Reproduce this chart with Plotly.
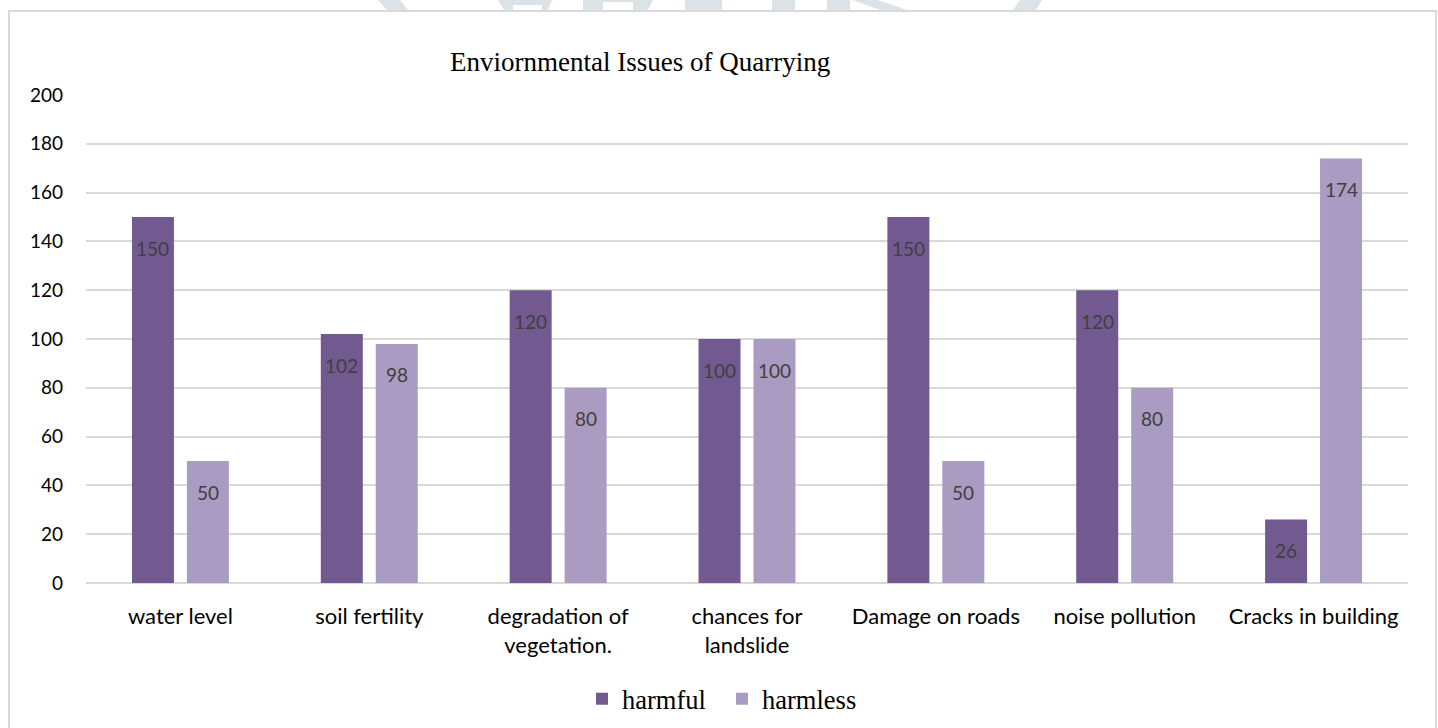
import plotly.graph_objects as go

categories = ["water level", "soil fertility", "degradation of<br>vegetation.", "chances for<br>landslide",
              "Damage on roads", "noise pollution", "Cracks in building"]
harmful = [150, 102, 120, 100, 150, 120, 26]
harmless = [50, 98, 80, 100, 50, 80, 174]
series_names = ["harmful", "harmless"]
y_ticks = [0, 20, 40, 60, 80, 100, 120, 140, 160, 180, 200]

C_HARMFUL = "#725990"
C_HARMLESS = "#a99bc1"

W, H = 1438, 728
ML, MR, MT = 86, 30, 95
MB = H - 583
PW, PH = W - ML - MR, H - MT - MB

def px(sx, sy):
    return (sx - ML) / PW, (H - MB - sy) / PH

fig = go.Figure()
fig.add_trace(go.Bar(x=categories, y=harmful, name=series_names[0], marker=dict(color=C_HARMFUL, line=dict(width=0))))
fig.add_trace(go.Bar(x=categories, y=harmless, name=series_names[1], marker=dict(color=C_HARMLESS, line=dict(width=0))))

annotations = []
for vals, shift in ((harmful, -27.5), (harmless, 27.5)):
    for c, v in zip(categories, vals):
        annotations.append(dict(x=c, y=v, xref="x", yref="y", text=str(v), showarrow=False,
                                xshift=shift, yshift=-31, yanchor="middle",
                                font=dict(family="Lato", size=19, color="#404040")))

tx, ty = px(640, 62)
annotations.append(dict(x=tx, y=ty, xref="paper", yref="paper", text="Enviornmental Issues of Quarrying",
                        showarrow=False, xanchor="center", yanchor="middle",
                        font=dict(family="Liberation Serif", size=27, color="#000000")))

shapes = []
# chart border
x0, y0 = px(9, 11)
x1, y1 = px(1436, 740)
shapes.append(dict(type="rect", xref="paper", yref="paper", x0=x0, y0=y1, x1=x1, y1=y0,
                   line=dict(color="#d9d9d9", width=2), fillcolor="rgba(0,0,0,0)", layer="below"))

# faint watermark fragments along the top edge
wm = [
    [(378, 0), (400, 0), (408, 10), (387, 10)],
    [(498, 0), (552, 0), (548, 10), (542, 10), (542, 5), (513, 5), (513, 10), (504, 10)],
    [(583, 0), (653, 0), (648, 10), (633, 10), (633, 2), (603, 2), (603, 10), (583, 10)],
    [(685, 0), (700, 0), (700, 10), (685, 10)],
    [(697, 0), (722, 0), (722, 10), (697, 10)],
    [(772, 0), (795, 0), (795, 10), (772, 10)],
    [(827, 0), (850, 0), (850, 10), (827, 10)],
    [(853, 0), (878, 0), (907, 10), (880, 10)],
    [(1020, 0), (1042, 0), (1036, 10), (1013, 10)],
]
for poly in wm:
    pts = [px(a, b) for a, b in poly]
    path = "M " + " L ".join(f"{a:.5f},{b:.5f}" for a, b in pts) + " Z"
    shapes.append(dict(type="path", xref="paper", yref="paper", path=path,
                       fillcolor="#dce3e6", line=dict(width=0), layer="below"))

lx, ly = px(722, 699)
fig.update_layout(
    width=W, height=H,
    margin=dict(l=ML, r=MR, t=MT, b=MB, pad=0, autoexpand=False),
    paper_bgcolor="white", plot_bgcolor="white",
    barmode="group", bargap=0.418, bargroupgap=0.236,
    showlegend=True,
    legend=dict(orientation="h", x=lx, y=ly, xanchor="center", yanchor="middle",
                font=dict(family="Liberation Serif", size=26.5, color="#000000"),
                itemwidth=30, entrywidth=95, tracegroupgap=0, bgcolor="rgba(0,0,0,0)"),
    annotations=annotations,
    shapes=shapes,
    xaxis=dict(showgrid=False, showline=False, ticks="", ticklabelstandoff=18, automargin=False,
               tickfont=dict(family="Lato", size=22, color="#000000"), fixedrange=True),
    yaxis=dict(range=[0, 200], tickvals=y_ticks, showgrid=True, gridcolor="#d9d9d9", gridwidth=1.5,
               zeroline=True, zerolinecolor="#d9d9d9", zerolinewidth=1.5, showline=False, ticks="",
               automargin=False, fixedrange=True,
               ticklabelstandoff=22, tickfont=dict(family="Lato", size=19, color="#000000")),
)

fig.write_html("out.html", config={"displayModeBar": False},
               post_script="document.body.style.margin='0';document.body.style.overflow='hidden';")
